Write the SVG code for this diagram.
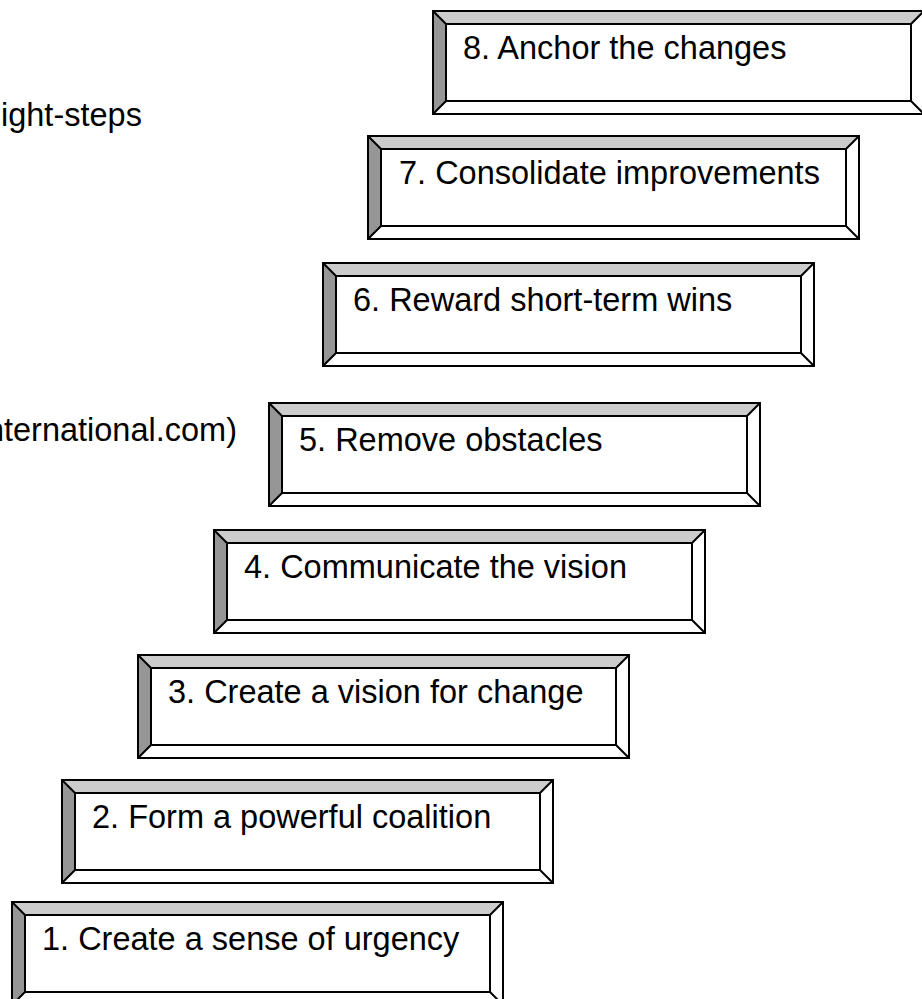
<svg xmlns="http://www.w3.org/2000/svg" xmlns:xlink="http://www.w3.org/1999/xlink" width="922" height="999" viewBox="0 0 922 999">
  <style>
    .lbl { font-family: "Liberation Sans", Arial, sans-serif; font-size: 32.5px; fill: #000; }
    .edge { stroke: #000; stroke-width: 2; stroke-linejoin: miter; }
  </style>
  <defs>
    <!-- bevelled step frame: 491 x 103, bevel 13 -->
    <g id="frame">
      <rect x="0" y="0" width="491" height="103" fill="#fff"/>
      <polygon points="0,0 491,0 478,13 13,13" fill="#cccccc"/>
      <polygon points="0,0 13,13 13,90 0,103" fill="#969696"/>
      <rect class="edge" x="0" y="0" width="491" height="103" fill="none"/>
      <rect class="edge" x="13" y="13" width="465" height="77" fill="none"/>
      <path class="edge" d="M0,0 L13,13 M491,0 L478,13 M0,103 L13,90 M491,103 L478,90" fill="none"/>
    </g>
  </defs>
  <rect width="922" height="999" fill="#fff"/>

  <g id="caption">
    <text class="lbl" x="1" y="126">ight-steps</text>
    <text class="lbl" x="237" y="441" text-anchor="end">nternational.com)</text>
  </g>

  <g id="step8">
    <use xlink:href="#frame" href="#frame" transform="translate(433,11)"/>
    <text class="lbl" x="463" y="59">8. Anchor the changes</text>
  </g>
  <g id="step7">
    <use xlink:href="#frame" href="#frame" transform="translate(368,136)"/>
    <text class="lbl" x="399" y="184">7. Consolidate improvements</text>
  </g>
  <g id="step6">
    <use xlink:href="#frame" href="#frame" transform="translate(323,263)"/>
    <text class="lbl" x="353" y="311">6. Reward short-term wins</text>
  </g>
  <g id="step5">
    <use xlink:href="#frame" href="#frame" transform="translate(269,403)"/>
    <text class="lbl" x="299" y="451">5. Remove obstacles</text>
  </g>
  <g id="step4">
    <use xlink:href="#frame" href="#frame" transform="translate(214,530)"/>
    <text class="lbl" x="244" y="578">4. Communicate the vision</text>
  </g>
  <g id="step3">
    <use xlink:href="#frame" href="#frame" transform="translate(138,655)"/>
    <text class="lbl" x="168" y="703">3. Create a vision for change</text>
  </g>
  <g id="step2">
    <use xlink:href="#frame" href="#frame" transform="translate(62,780)"/>
    <text class="lbl" x="92" y="828">2. Form a powerful coalition</text>
  </g>
  <g id="step1">
    <use xlink:href="#frame" href="#frame" transform="translate(12,902)"/>
    <text class="lbl" x="42" y="950">1. Create a sense of urgency</text>
  </g>

  <g id="connectors"/>
</svg>
